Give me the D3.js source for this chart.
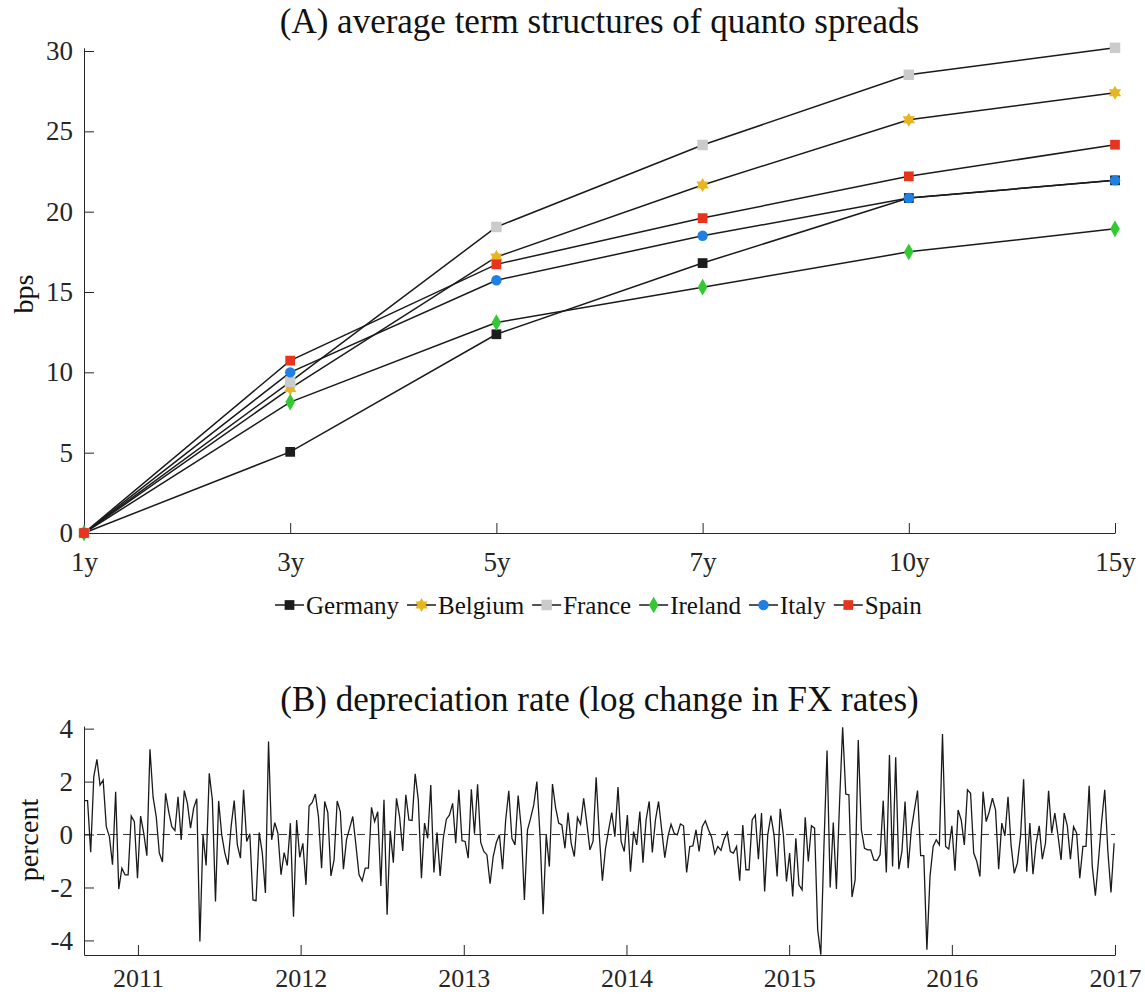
<!DOCTYPE html>
<html>
<head>
<meta charset="utf-8">
<script src="https://cdn.jsdelivr.net/npm/d3@7"></script>
<style>
  body { margin: 0; background: #fff; }
  svg { font-family: "Liberation Serif", "Times New Roman", serif; }
</style>
</head>
<body>
<svg id="chart" width="1145" height="998"></svg>
<script>
// panel A: average term structures (bps)
const maturities = ["1y", "3y", "5y", "7y", "10y", "15y"];
const countries = ["Germany", "Belgium", "France", "Ireland", "Italy", "Spain"];
const germany = [0, 5.05, 12.37, 16.8, 20.85, 21.95];
const belgium = [0, 9.0, 17.18, 21.66, 25.72, 27.4];
const france = [0, 9.41, 19.05, 24.15, 28.52, 30.2];
const ireland = [0, 8.15, 13.1, 15.3, 17.5, 18.93];
const italy = [0, 10.0, 15.73, 18.5, 20.85, 21.95];
const spain = [0, 10.73, 16.72, 19.6, 22.2, 24.17];
const spreadTicks = [0, 5, 10, 15, 20, 25, 30];

// panel B: weekly depreciation rate (percent), first obs 3 Sep 2010
const fxStart = new Date(2010, 8, 3);
const fxChange = [
  1.28, 1.28, -0.67, 2.19, 2.84, 1.87, 2.06, 0.3, -0.08, -1.14, 1.62, -2.06, -1.27, -1.52, -1.52, 0.7, 0.49, -1.65, 0.7, 0.05,
  -0.8, 3.22, 1.41, 0.68, -0.7, -1.04, 1.56, 0.87, 0.3, 0.15, 1.43, -0.2, 1.66, 1.18, 0.24,
  1.0, 1.35, -4.04, -0.01, -1.17, 2.31, 1.31, -2.53, 1.27, -0.01, -0.7, -1.14, 0.3, 1.28, -0.39, -0.89, 1.69, -0.26, 0.03, -2.47,
  -2.5, 0.08, -0.7, -2.21, 3.51, -0.2, 0.45, 0.05, -1.52, -0.68, -1.17, 0.43,
  -3.1, 0.55, -0.86, -0.33, -1.9, 1.08, 1.21, 1.53, 0.68, -1.27, 1.25, 0.83, -1.56, -0.96, 1.27, 0.87, -1.31, -0.18, 0.24, 0.68,
  -0.39, -1.52, -1.75, -1.27, -1.27, 1.03, 0.49, 0.86, -1.94, 1.31, -3.03, 0.14, -1.06, 1.37,
  0.68, -0.62, 1.5, 0.55, 0.53, 2.29, 1.31, -1.65, 0.43, -0.14, 1.87, -1.43, 0.08, -1.56, -0.14, 0.58, 0.74, 1.18, -0.33, 1.69,
  -0.23, -0.26, -0.89, 1.71, 0.03, 1.9, -0.3, -0.64, -0.77, -1.86, -0.83, -0.3, -0.01, -1.31,
  0.55, 1.65, -0.14, -0.39, 1.47, 0.24, -2.47, 0.18, 0.62, 1.12, 2.0, -0.01, -3.01, -0.01, -1.21, 1.91, 1.02, 0.43, 0.36, -0.52,
  0.83, -0.33, -0.83, 0.64, 0.39, 1.37, 0.43, -0.58, -0.26, 2.16, -0.01, -1.74, -0.52,
  0.18, 0.83, -0.08, 1.79, -0.26, -0.64, 0.74, -1.4, 0.11, -0.39, 0.87, -1.06, 0.55, 1.25, -0.68, 0.55, 1.25, 0.18, -0.87, -0.08,
  0.39, 0.05, -0.01, 0.4, 0.33, -1.43, -0.45, -0.43, 0.18, -0.64, 0.3, 0.52, 0.18, -0.1,
  -0.73, -0.45, -0.6, -0.18, 0.08, -0.64, -0.7, -0.45, -1.74, 0.36, -1.33, -1.33, 0.55, 0.74, -0.93, 0.81, -2.15, -0.01, 0.72, -0.01,
  -1.58, 0.97, -0.01, -1.77, -0.7, -2.34, -0.14, -1.9, -2.09, 0.65, -1.02, 0.33, 0.24,
  -3.6, -4.54, -0.45, 3.17, -2.0, 0.45, -2.06, 1.18, 4.05, 1.53, 1.5, -2.36, -1.71, 3.57, 0.18, -0.52, -0.58, -0.58, -0.96, -0.98,
  -0.77, 1.28, -1.43, 3.0, -1.21, 2.92, -1.31, -0.64, 1.25, -1.27, 0.18, 0.93, 1.66, -0.8, -0.8,
  -4.35, -1.58, -0.45, -0.2, -0.39, 3.8, -0.45, -0.55, 0.33, -1.37, 0.93, 0.55, -0.39, 1.69, 1.56, -0.7, -1.02, -1.58, 1.62, 0.49,
  0.87, 1.37, 0.93, -1.31, 0.43, -0.05, 1.43, -0.43, -1.46, -1.08, -0.08, 2.09, -1.4,
  0.43, -1.5, -0.33, 0.33, -0.93, -0.33, 1.65, 0.05, 0.81, -0.01, -0.96, 0.81, 0.33, -0.93, 0.3, 0.05, -1.65, -0.45, -0.45, 1.84,
  -1.21, -2.31, -0.96, 0.49, 1.69, -0.64, -2.19, -0.33
];
const yearTicks = [2011, 2012, 2013, 2014, 2015, 2016, 2017];
const pctTicks = [-4, -2, 0, 2, 4];

const axisColor = "#262626";
const svg = d3.select("#chart");
svg.append("rect").attr("width", 1145).attr("height", 998).attr("fill", "#fff");

// six-pointed star like matlab's hexagram
const hexagram = {
  draw(ctx, size) {
    const r = Math.sqrt(size) * 0.62, ri = r / Math.sqrt(3);
    for (let i = 0; i < 12; i++) {
      const rr = i % 2 ? ri : r;
      const a = -Math.PI / 2 + i * Math.PI / 6;
      if (i === 0) ctx.moveTo(rr * Math.cos(a), rr * Math.sin(a));
      else ctx.lineTo(rr * Math.cos(a), rr * Math.sin(a));
    }
    ctx.closePath();
  }
};

const series = [
  { name: countries[0], values: germany, color: "#1c1c1c", symbol: d3.symbolSquare, size: 95 },
  { name: countries[1], values: belgium, color: "#e8b520", symbol: hexagram, size: 130 },
  { name: countries[2], values: france, color: "#cbcbcb", symbol: d3.symbolSquare, size: 110 },
  { name: countries[3], values: ireland, color: "#33c933", symbol: d3.symbolDiamond, size: 80 },
  { name: countries[4], values: italy, color: "#1f80e3", symbol: d3.symbolCircle, size: 85 },
  { name: countries[5], values: spain, color: "#e8341c", symbol: d3.symbolSquare, size: 95 }
];

function styleAxis(g, size) {
  g.select(".domain").attr("stroke", axisColor).attr("stroke-width", 1);
  g.selectAll(".tick line").attr("stroke", axisColor);
  g.selectAll(".tick text").attr("fill", axisColor).attr("font-size", size)
    .attr("font-family", "Liberation Serif, serif");
}

// ---------- panel A ----------
const x = d3.scalePoint().domain(maturities).range([84, 1115]);
const y = d3.scaleLinear().domain([0, 30.2]).range([533, 47.8]);

svg.append("g").attr("transform", "translate(0,533)")
  .call(d3.axisBottom(x).tickSizeInner(-10).tickSizeOuter(0).tickPadding(19))
  .call(g => styleAxis(g, 27));
svg.append("g").attr("transform", "translate(84,0)")
  .call(d3.axisLeft(y).tickValues(spreadTicks).tickSizeInner(-10).tickSizeOuter(0).tickPadding(11))
  .call(g => styleAxis(g, 27));

const line = d3.line().x((d, i) => x(maturities[i])).y(d => y(d));
series.forEach(s => {
  svg.append("path").attr("d", line(s.values))
    .attr("fill", "none").attr("stroke", "#1a1a1a").attr("stroke-width", 1.5);
});
series.forEach(s => {
  svg.append("g").selectAll("path").data(s.values).join("path")
    .attr("transform", (d, i) => `translate(${x(maturities[i])},${y(d)})`)
    .attr("d", d3.symbol().type(s.symbol).size(s.size))
    .attr("fill", s.color);
});

svg.append("text").attr("x", 599.5).attr("y", 33).attr("text-anchor", "middle")
  .attr("font-size", 35).attr("fill", "#111").text("(A) average term structures of quanto spreads");
svg.append("text").attr("transform", "translate(33,294) rotate(-90)").attr("text-anchor", "middle")
  .attr("font-size", 28).attr("fill", "#111").text("bps");

// legend
let lx = 275;
const ly = 605;
series.forEach(s => {
  svg.append("line").attr("x1", lx).attr("x2", lx + 29).attr("y1", ly).attr("y2", ly)
    .attr("stroke", "#1a1a1a").attr("stroke-width", 1.5);
  svg.append("path").attr("transform", `translate(${lx + 14.5},${ly})`)
    .attr("d", d3.symbol().type(s.symbol).size(s.size)).attr("fill", s.color);
  const t = svg.append("text").attr("x", lx + 31).attr("y", ly + 8.5)
    .attr("font-size", 25).attr("fill", "#111").text(s.name);
  lx += 31 + t.node().getComputedTextLength() + 8;
});

// ---------- panel B ----------
const xt = d3.scaleTime().domain([new Date(2010, 8, 2), new Date(2017, 0, 1)]).range([84, 1115]);
const yb = d3.scaleLinear().domain([-4.55, 4.1]).range([955, 726]);

svg.append("line").attr("x1", 84).attr("x2", 1115).attr("y1", yb(0)).attr("y2", yb(0))
  .attr("stroke", "#333").attr("stroke-width", 1).attr("stroke-dasharray", "8,5");

svg.append("g").attr("transform", "translate(0,955)")
  .call(d3.axisBottom(xt).tickValues(yearTicks.map(v => new Date(v, 0, 1)))
    .tickFormat(d3.timeFormat("%Y")).tickSizeInner(-10).tickSizeOuter(0).tickPadding(14))
  .call(g => styleAxis(g, 26));
svg.append("g").attr("transform", "translate(84,0)")
  .call(d3.axisLeft(yb).tickValues(pctTicks).tickFormat(d => String(d))
    .tickSizeInner(-10).tickSizeOuter(0).tickPadding(11))
  .call(g => styleAxis(g, 27));

const fxLine = d3.line()
  .x((d, i) => xt(d3.timeDay.offset(fxStart, 7 * i)))
  .y(d => yb(d));
svg.append("path").attr("d", fxLine(fxChange))
  .attr("fill", "none").attr("stroke", "#1a1a1a").attr("stroke-width", 1.3)
  .attr("stroke-linejoin", "miter");

svg.append("text").attr("x", 599.5).attr("y", 711).attr("text-anchor", "middle")
  .attr("font-size", 35).attr("fill", "#111").text("(B) depreciation rate (log change in FX rates)");
svg.append("text").attr("transform", "translate(38,840) rotate(-90)").attr("text-anchor", "middle")
  .attr("font-size", 28).attr("fill", "#111").text("percent");
</script>
</body>
</html>
